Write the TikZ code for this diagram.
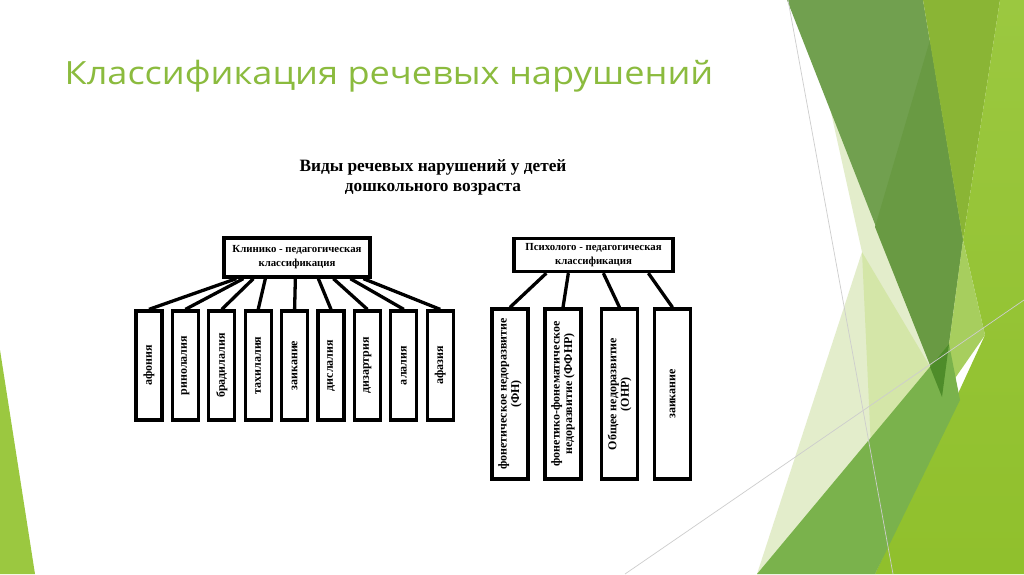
\documentclass[tikz,border=0pt]{standalone}
\usepackage{fontspec}
\setmainfont{Liberation Serif}
\newfontfamily\slidefont[FakeStretch=1.13]{Open Sans}
\usetikzlibrary{calc}
\definecolor{titlegreen}{RGB}{139,187,62}
\definecolor{paleA}{RGB}{227,237,203}
\definecolor{paleB}{RGB}{212,230,168}
\definecolor{darkG}{RGB}{113,160,79}
\definecolor{darkerG}{RGB}{105,154,67}
\definecolor{oliveG}{RGB}{138,181,53}
\definecolor{limeG}{RGB}{155,200,64}
\definecolor{limeH}{RGB}{144,192,44}
\definecolor{bandG}{RGB}{167,206,94}
\definecolor{midG}{RGB}{122,178,76}
\definecolor{deepG}{RGB}{78,140,42}
\definecolor{lineG}{RGB}{205,205,205}

\begin{document}
\begin{tikzpicture}[x=1pt, y=-1pt, line width=3.3pt,
  hbox/.style={draw, fill=white, align=center, inner sep=0pt, font=\bfseries\fontsize{10.8}{14}\selectfont},
  vbox/.style={draw, fill=white, rotate=90, align=center, inner sep=0pt, font=\bfseries\fontsize{12}{12.5}\selectfont}]
\useasboundingbox (0,0) rectangle (1024,574);
\fill[white] (0,0) rectangle (1024,574);

\fill[limeG] (0,350)--(35,574)--(0,574)--cycle;
\fill[paleA] (830,108)--(862,252)--(757,574)--(880,574)--(960,330)--cycle;
\fill[paleB] (862,252)--(935,375)--(872,470)--cycle;
\fill[darkG] (787,0)--(923,0)--(963,240)--(942,395)--cycle;
\fill[darkerG] (930,40)--(963,240)--(942,395)--(875,227)--cycle;
\fill[oliveG] (923,0)--(1000,0)--(963,240)--cycle;
\shade[top color=limeG, bottom color=limeH] (1000,0)--(1024,0)--(1024,574)--(875,574)--(985,335)--(963,240)--cycle;
\fill[bandG] (963,240)--(985,335)--(942,397)--cycle;
\fill[midG] (757,574)--(875,574)--(960,400)--(949,344)--cycle;
\fill[deepG] (930,367)--(949,344)--(942,397)--cycle;
\draw[line width=0.7pt, lineG] (788,0)--(893,574);
\draw[line width=0.7pt, lineG] (625,574)--(1024,300);

\node[anchor=base west, inner sep=0pt, text=titlegreen, font=\slidefont\fontsize{32}{36}\selectfont] (title) at (63,84) {Классификация речевых нарушений};

\node[anchor=north, align=center, inner sep=0pt, font=\bfseries\fontsize{17.3}{20}\selectfont] (head) at (433,158) {Виды речевых нарушений у детей\\дошкольного возраста};

\node[hbox, minimum width=146pt, minimum height=39pt] (kp) at (297,257.5) {Клинико - педагогическая\\классификация};
\node[hbox, minimum width=159pt, minimum height=33pt] (pp) at (593.5,255) {Психолого - педагогическая\\классификация};

\foreach \name [count=\i] in {афония,ринолалия,брадилалия,тахилалия,заикание,дислалия,дизартрия,алалия,афазия}{
	\node[vbox, minimum width=109pt, minimum height=26pt] (v\i) at ({149+36.4*(\i-1)},365.5) {\name};
}
\foreach \i/\dx in {1/14,2/21,3/31,4/43,5/73,6/96,7/111,8/128,9/141}{
	\draw ([xshift=\dx pt]kp.south west) -- (v\i.east);
}

\foreach \txt/\x [count=\i] in {{фонетическое недоразвитие\\(ФН)}/510,{фонетико-фонематическое\\недоразвитие (ФФНР)}/563,{Общее недоразвитие\\(ОНР)}/619.5,{заикание}/672.5}{
	\node[vbox, minimum width=170pt, minimum height=36pt] (w\i) at (\x,394) {\txt};
}
\foreach \i/\dx in {1/34,2/56,3/91,4/136}{
	\draw ([xshift=\dx pt]pp.south west) -- (w\i.east);
}
\end{tikzpicture}
\end{document}
